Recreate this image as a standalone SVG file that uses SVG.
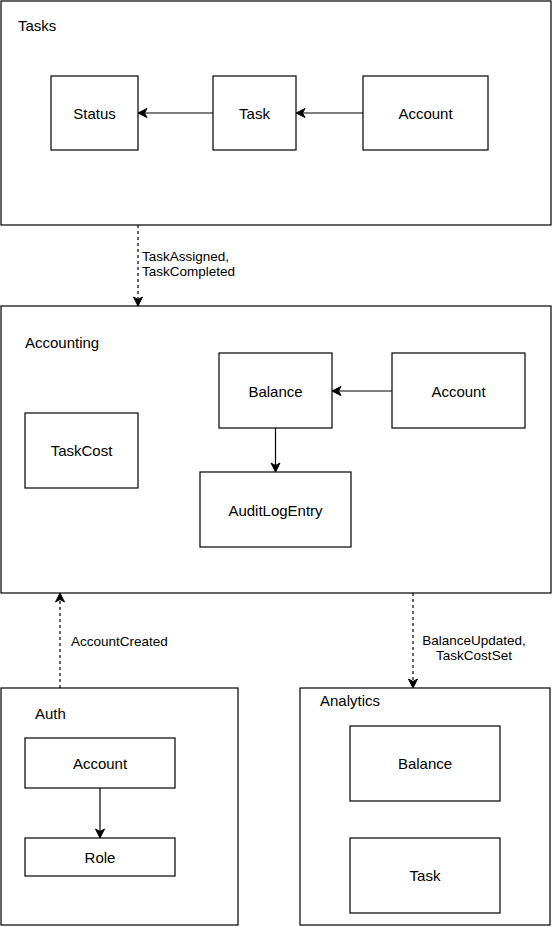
<svg xmlns="http://www.w3.org/2000/svg" width="552" height="927" viewBox="0 0 552 927">
<style>
  rect { fill: #ffffff; stroke: #000000; stroke-width: 1.2; }
  text { font-family: "Liberation Sans", Arial, sans-serif; fill: #000000; }
  .lbl { font-size: 15px; text-anchor: middle; }
  .ctr { font-size: 15px; }
  .edge { font-size: 13.5px; }
  .line { stroke: #000000; stroke-width: 1.2; fill: none; }
  .dash { stroke-dasharray: 3 3; }
</style>
<defs>
  <marker id="arr" markerUnits="userSpaceOnUse" markerWidth="12" markerHeight="12" refX="10" refY="6" orient="auto">
    <path d="M1,1.5 L10,6 L1,10.5 L3.5,6 Z" fill="#000000" stroke="#000000" stroke-width="1"/>
  </marker>
</defs>
<rect x="0" y="0" width="552" height="927" style="fill:#ffffff;stroke:none"/>

<g id="tasks">
  <rect x="1" y="1" width="550" height="224"/>
  <text class="ctr" x="18" y="31">Tasks</text>
</g>
<g id="tasks-status">
  <rect x="51" y="76" width="87" height="74"/>
  <text class="lbl" x="94.5" y="119">Status</text>
</g>
<g id="tasks-task">
  <rect x="213" y="76" width="83" height="74"/>
  <text class="lbl" x="254.5" y="119">Task</text>
</g>
<g id="tasks-account">
  <rect x="363" y="76" width="125" height="74"/>
  <text class="lbl" x="425.5" y="119">Account</text>
</g>

<g id="accounting">
  <rect x="1" y="306" width="550" height="287"/>
  <text class="ctr" x="25" y="348">Accounting</text>
</g>
<g id="acc-balance">
  <rect x="219" y="353" width="113" height="75"/>
  <text class="lbl" x="275.5" y="397">Balance</text>
</g>
<g id="acc-account">
  <rect x="392" y="353" width="133" height="75"/>
  <text class="lbl" x="458.5" y="397">Account</text>
</g>
<g id="acc-taskcost">
  <rect x="25" y="413" width="113" height="75"/>
  <text class="lbl" x="81.5" y="456">TaskCost</text>
</g>
<g id="acc-auditlog">
  <rect x="200" y="472" width="151" height="75"/>
  <text class="lbl" x="275.5" y="516">AuditLogEntry</text>
</g>

<g id="auth">
  <rect x="1" y="688" width="237" height="237"/>
  <text class="ctr" x="35" y="719">Auth</text>
</g>
<g id="auth-account">
  <rect x="25" y="738" width="150" height="50"/>
  <text class="lbl" x="100" y="769">Account</text>
</g>
<g id="auth-role">
  <rect x="25" y="838" width="150" height="38"/>
  <text class="lbl" x="100" y="863">Role</text>
</g>

<g id="analytics">
  <rect x="300" y="688" width="250" height="237"/>
  <text class="ctr" x="320" y="706">Analytics</text>
</g>
<g id="an-balance">
  <rect x="350" y="726" width="150" height="75"/>
  <text class="lbl" x="425" y="769">Balance</text>
</g>
<g id="an-task">
  <rect x="350" y="838" width="150" height="75"/>
  <text class="lbl" x="425" y="881">Task</text>
</g>

<g id="connectors">
  <line class="line" x1="213" y1="113" x2="138" y2="113" marker-end="url(#arr)"/>
  <line class="line" x1="363" y1="113" x2="296" y2="113" marker-end="url(#arr)"/>
  <line class="line" x1="392" y1="391" x2="332" y2="391" marker-end="url(#arr)"/>
  <line class="line" x1="275.5" y1="428" x2="275.5" y2="472" marker-end="url(#arr)"/>
  <line class="line" x1="100" y1="788" x2="100" y2="838" marker-end="url(#arr)"/>
  <line class="line dash" x1="138" y1="225" x2="138" y2="306" marker-end="url(#arr)"/>
  <line class="line dash" x1="60" y1="688" x2="60" y2="593" marker-end="url(#arr)"/>
  <line class="line dash" x1="413" y1="593" x2="413" y2="688" marker-end="url(#arr)"/>
  <text class="edge" x="142" y="261">TaskAssigned,</text>
  <text class="edge" x="142" y="276">TaskCompleted</text>
  <text class="edge" x="71" y="646">AccountCreated</text>
  <text class="edge" x="474" y="645" text-anchor="middle">BalanceUpdated,</text>
  <text class="edge" x="474" y="660" text-anchor="middle">TaskCostSet</text>
</g>
</svg>
